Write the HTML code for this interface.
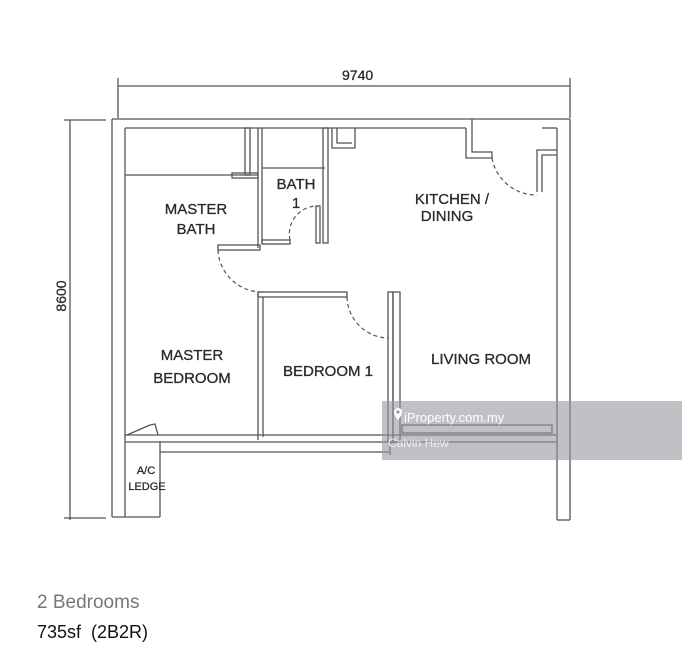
<!DOCTYPE html>
<html><head><style>
body{margin:0;background:#fff;width:682px;height:667px;overflow:hidden;position:relative;font-family:"Liberation Sans",sans-serif}
.t{position:absolute;left:37px}
</style></head><body>
<svg width="682" height="667" style="position:absolute;left:0;top:0" font-family="Liberation Sans, sans-serif">
<g stroke="#555" stroke-width="1.3" fill="none">
<line x1="118" y1="86" x2="570" y2="86"/>
<line x1="118" y1="78" x2="118" y2="118"/>
<line x1="570" y1="78" x2="570" y2="118"/>
<line x1="70" y1="120" x2="70" y2="520"/>
<line x1="64" y1="120" x2="106" y2="120"/>
<line x1="64" y1="518" x2="106" y2="518"/>
<line x1="112" y1="119" x2="570" y2="119"/>
<line x1="125" y1="128" x2="466" y2="128"/>
<line x1="112" y1="119" x2="112" y2="517"/>
<line x1="125" y1="128" x2="125" y2="517"/>
<line x1="112" y1="517" x2="160" y2="517"/>
<line x1="160" y1="442" x2="160" y2="517"/>
<line x1="557" y1="128" x2="557" y2="520"/>
<line x1="570" y1="119" x2="570" y2="520"/>
<line x1="557" y1="520" x2="570" y2="520"/>
<line x1="542" y1="128" x2="557" y2="128"/>
<line x1="125" y1="175" x2="258" y2="175"/>
<rect x="245" y="128" width="5" height="47"/>
<rect x="232" y="173" width="26" height="5"/>
<line x1="258" y1="128" x2="258" y2="248"/>
<line x1="262" y1="128" x2="262" y2="243"/>
<rect x="218" y="245" width="42" height="5"/>
<line x1="262" y1="168" x2="325" y2="168"/>
<rect x="323" y="128" width="5" height="115"/>
<rect x="262" y="240" width="28" height="4"/>
<rect x="316" y="206" width="4" height="37"/>
<polyline points="332,128 332,148 355,148 355,128"/>
<polyline points="337,128 337,143 352,143"/>
<polyline points="466,128 466,158 492,158 492,152 472,152 472,119"/>
<polyline points="537,192 537,150 557,150"/>
<polyline points="542,192 542,155 557,155"/>
<rect x="258" y="292" width="89" height="5"/>
<line x1="258" y1="292" x2="258" y2="440"/>
<line x1="263" y1="297" x2="263" y2="437"/>
<rect x="388" y="292" width="5" height="150"/>
<rect x="393" y="292" width="7" height="150"/>
<line x1="125" y1="435" x2="557" y2="435"/>
<line x1="125" y1="442" x2="557" y2="442"/>
<line x1="160" y1="452" x2="390" y2="452"/>
<line x1="390" y1="442" x2="390" y2="455"/>
<rect x="402" y="425" width="150" height="8"/>
<line x1="127" y1="435" x2="150" y2="425"/>
<polyline points="150,425 155,424 158,435"/>
</g>
<g stroke="#555" stroke-width="1.2" fill="none" stroke-dasharray="4,3">
<path d="M218 250 A44 44 0 0 0 262 292"/>
<path d="M290 240 A28 28 0 0 1 318 206"/>
<path d="M347 297 A42 42 0 0 0 389 338"/>
<path d="M492 158 A45 45 0 0 0 537 195"/>
</g>
<g fill="#2a2a2a" stroke="#2a2a2a" stroke-width="0.3" font-size="15">
<text x="342" y="80" font-size="14">9740</text>
<text transform="translate(66,296) rotate(-90)" text-anchor="middle" font-size="14">8600</text>
<text x="196" y="214" text-anchor="middle">MASTER</text>
<text x="196" y="234" text-anchor="middle">BATH</text>
<text x="296" y="189" text-anchor="middle">BATH</text>
<text x="296" y="208" text-anchor="middle">1</text>
<text x="452" y="204" text-anchor="middle">KITCHEN /</text>
<text x="447" y="221" text-anchor="middle">DINING</text>
<text x="192" y="360" text-anchor="middle">MASTER</text>
<text x="192" y="383" text-anchor="middle">BEDROOM</text>
<text x="328" y="376" text-anchor="middle">BEDROOM 1</text>
<text x="481" y="364" text-anchor="middle">LIVING ROOM</text>
<text x="146" y="474" text-anchor="middle" font-size="11">A/C</text>
<text x="147" y="490" text-anchor="middle" font-size="11">LEDGE</text>
</g>
<rect x="382" y="401" width="300" height="59" fill="rgba(150,152,158,0.6)"/>
<g fill="#fff">
<path d="M394 412 a4 4 0 0 1 8 0 c0 3 -4 8 -4 8 s-4 -5 -4 -8z"/>
<circle cx="398" cy="412" r="1.6" fill="#999"/>
<text x="404" y="422" font-size="13">iProperty.com.my</text>
<text x="388" y="447" font-size="12" fill="#eee">Calvin Hew</text>
</g>
</svg>
<div class="t" style="top:592px;font-size:19px;color:#777">2 Bedrooms</div>
<div class="t" style="top:622px;font-size:18px;color:#111">735sf&nbsp; (2B2R)</div>
</body></html>
